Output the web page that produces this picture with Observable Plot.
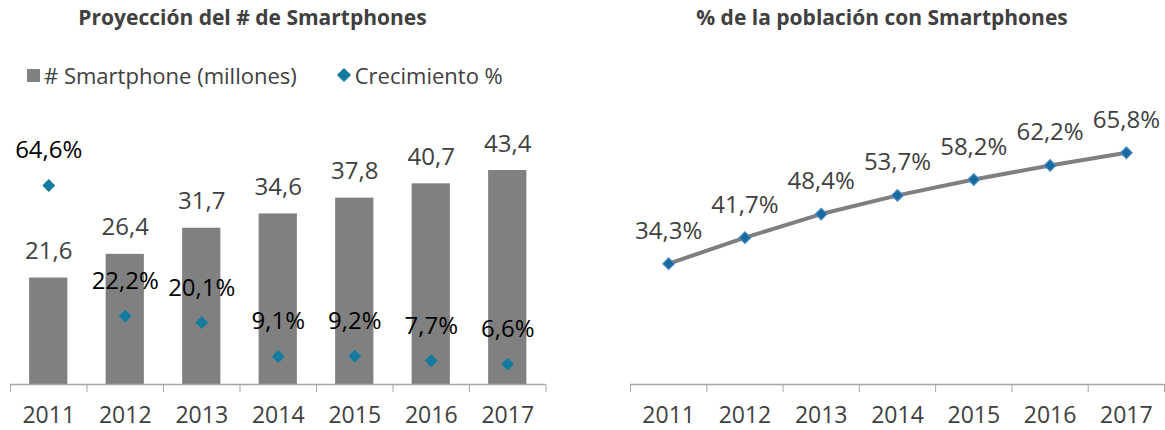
<!DOCTYPE html>
<html><head><meta charset="utf-8">
<script src="https://cdn.jsdelivr.net/npm/d3@7"></script>
<script src="https://cdn.jsdelivr.net/npm/@observablehq/plot@0.6"></script>
<style>
body{margin:0;background:#fff;font-family:"Open Sans",sans-serif;}
#wrap{position:relative;width:1165px;height:430px;overflow:hidden;background:#fff;}
.title{position:absolute;top:3px;font-weight:bold;font-size:21px;line-height:28px;color:#404040;text-align:center;white-space:nowrap;}
.legend{position:absolute;top:60px;left:27px;font-size:22px;line-height:30px;color:#404040;display:flex;align-items:center;white-space:nowrap;}
.sq{display:inline-block;width:13px;height:13px;background:#808080;margin-right:4px;}
.dm{display:inline-block;width:10px;height:10px;background:#137aa0;transform:rotate(45deg);margin-left:42px;margin-right:6px;}
.panel{position:absolute;top:100px;}
</style></head>
<body><div id="wrap">
<div class="title" style="left:0;width:505px">Proyección del # de Smartphones</div>
<div class="title" style="left:630px;width:504px">% de la población con Smartphones</div>
<div class="legend"><span class="sq"></span><span># Smartphone (millones)</span><span class="dm"></span><span>Crecimiento %</span></div>
<div id="left" class="panel" style="left:0"></div>
<div id="right" class="panel" style="left:590px"></div>
</div>
<script>
const years = [2011, 2012, 2013, 2014, 2015, 2016, 2017];
const smartphones = [21.6, 26.4, 31.7, 34.6, 37.8, 40.7, 43.4];
const growth = [64.6, 22.2, 20.1, 9.1, 9.2, 7.7, 6.6];
const penetration = [34.3, 41.7, 48.4, 53.7, 58.2, 62.2, 65.8];
const barAxisMax = 50;      // primary axis max (millones)
const growthAxisMax = 80;   // secondary axis max (%)
const penAxisMax = 70;      // right chart axis max (%)

const fmt = v => v.toFixed(1).replace(".", ",");
const bounds = years.map(y => y - 0.5).concat([years[years.length - 1] + 0.5]);
const xDomain = [bounds[0], bounds[bounds.length - 1]];

const rows = years.map((y, i) => ({year: y, units: smartphones[i], growth: growth[i]}));
const pen = years.map((y, i) => ({year: y, pct: penetration[i]}));

const FONT = "Open Sans";
const FS = 24;
const AXFS = 23;
const common = {
  height: 330, marginTop: 37.5, marginBottom: 46,
  style: {fontFamily: FONT, fontSize: FS + "px", color: "#404040", overflow: "visible", background: "transparent"}
};

const left = Plot.plot({
  ...common,
  width: 560, marginLeft: 10, marginRight: 14.5,
  x: {domain: xDomain},
  y: {domain: [0, barAxisMax], axis: null},
  marks: [
    Plot.rectY(rows, {x1: d => d.year - 0.25, x2: d => d.year + 0.25, y: "units", fill: "#808080"}),
    Plot.ruleY([0], {stroke: "#a6a6a6", strokeWidth: 1.5}),
    Plot.axisX(bounds, {tickSize: 8, tickFormat: () => "", stroke: "#a6a6a6", label: null}),
    Plot.axisX(years, {tickSize: 0, tickPadding: 22, tickFormat: d => String(d), fill: "#404040", fontSize: AXFS, label: null}),
    Plot.text(rows, {x: "year", y: "units", text: d => fmt(d.units), lineAnchor: "bottom", dy: -19, fill: "#404040", fontSize: FS}),
    Plot.dot(rows, {x: "year", y: d => d.growth * barAxisMax / growthAxisMax, symbol: "diamond2", r: 5.8, fill: "#137aa0"}),
    Plot.text(rows, {x: "year", y: d => d.growth * barAxisMax / growthAxisMax, text: d => fmt(d.growth) + "%", lineAnchor: "bottom", dy: -27, fill: "#000", fontSize: FS})
  ]
});
document.getElementById("left").appendChild(left);

const right = Plot.plot({
  ...common,
  width: 575, marginLeft: 40, marginRight: 1,
  x: {domain: xDomain},
  y: {domain: [0, penAxisMax], axis: null},
  marks: [
    Plot.ruleY([0], {stroke: "#a6a6a6", strokeWidth: 1.5}),
    Plot.axisX(bounds, {tickSize: 8, tickFormat: () => "", stroke: "#a6a6a6", label: null}),
    Plot.axisX(years, {tickSize: 0, tickPadding: 22, tickFormat: d => String(d), fill: "#404040", fontSize: AXFS, label: null}),
    Plot.line(pen, {x: "year", y: "pct", stroke: "#7f7f7f", strokeWidth: 4}),
    Plot.dot(pen, {x: "year", y: "pct", symbol: "diamond2", r: 5.2, fill: "#176b9c", stroke: "#4a86c5", strokeWidth: 1.2}),
    Plot.text(pen, {x: "year", y: "pct", text: d => fmt(d.pct) + "%", lineAnchor: "bottom", dy: -25, fill: "#404040", fontSize: FS})
  ]
});
document.getElementById("right").appendChild(right);
</script>
</body></html>
